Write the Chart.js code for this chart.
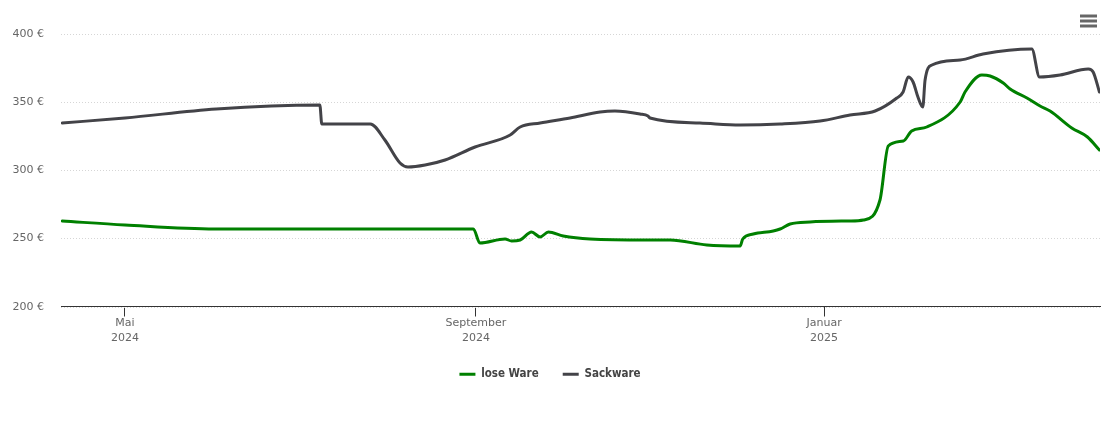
<!DOCTYPE html>
<html>
<head>
<meta charset="utf-8">
<script src="https://cdn.jsdelivr.net/npm/chart.js@4/dist/chart.umd.min.js"></script>
<style>
  html, body { margin: 0; padding: 0; background: #fff; }
  #wrap { width: 1110px; height: 423px; }
</style>
</head>
<body>
<div id="wrap"><canvas id="price-chart"></canvas></div>
<script>
// x values are days since 9 April 2024
const seriesNames = ["lose Ware", "Sackware"];

const loseDays = [0, 22, 53.5, 69.3, 144.1, 146.4, 155.2, 157.5, 160.5, 164.5, 167.5, 170.4, 175.6, 185,
    204.9, 213.1, 225.9, 237.6, 238.5, 242.2, 249.2, 251.6, 255.1, 262.1, 276.1, 280.8, 286.6, 289.5,
    294.8, 297.7, 303, 314.7, 316.4, 322.3, 325.2, 329.8, 332.2, 338.1, 342.7, 346.2, 353.8, 359.3, 363.5];
const losePrices = [262.6, 259.6, 257.0, 256.7, 256.7, 246.6, 249.3, 247.8, 249.1, 254.7, 251.0, 254.7, 251.7, 249.3,
    249.1, 248.6, 245.4, 244.2, 249.8, 253.5, 255.2, 257.2, 260.4, 261.8, 262.6, 263.8, 278.0, 317.8,
    321.7, 328.8, 332.0, 350.4, 357.7, 370.0, 369.3, 363.9, 359.5, 352.9, 347.2, 343.5, 330.8, 324.2, 314.8];

const sackDays = [0, 22, 54, 90.3, 91, 108, 113.1, 118.4, 121.2, 127.2, 134.2, 144.7, 157, 160.5, 167.5,
    178, 188.5, 193.7, 202.5, 205.3, 206, 223.5, 237.6, 251.6, 265.6, 276.1, 284.9, 292.5, 294.7, 296.5,
    298.2, 299.9, 301.6, 302.4, 304.8, 314.7, 322.7, 339.8, 342.5, 349.7, 359.6, 361.3, 363.5];
const sackPrices = [334.7, 338.4, 345.0, 348.0, 334.0, 334.0, 322.2, 305.3, 302.4, 303.8, 307.5, 317.0, 325.9, 331.8, 334.7,
    338.4, 342.8, 343.5, 341.3, 339.9, 338.4, 334.7, 333.2, 333.6, 336.2, 340.6, 343.5, 352.9, 357.5, 368.8,
    364.9, 353.8, 346.3, 366.4, 377.4, 381.1, 385.5, 389.2, 368.3, 369.8, 374.2, 372.2, 357.7];

const monthTicks = [22, 145, 267];
const monthLabels = [["Mai", "2024"], ["September", "2024"], ["Januar", "2025"]];
const yTicks = [200, 250, 300, 350, 400];

function toPoints(xs, ys) {
    return xs.map((x, i) => ({ x: x, y: ys[i] }));
}

// little menu icon in the top right corner
const menuIcon = {
    id: "menuIcon",
    afterDraw(chart) {
        const ctx = chart.ctx;
        ctx.save();
        ctx.strokeStyle = "#666666";
        ctx.lineWidth = 3;
        [16, 21, 26].forEach(function (y) {
            ctx.beginPath();
            ctx.moveTo(1080, y);
            ctx.lineTo(1097, y);
            ctx.stroke();
        });
        ctx.restore();
    },
};

const ctx = document.getElementById("price-chart").getContext("2d");
new Chart(ctx, {
    type: "line",
    data: {
        datasets: [
            {
                label: seriesNames[0],
                data: toPoints(loseDays, losePrices),
                borderColor: "#008000",
                backgroundColor: "#008000",
                borderWidth: 3,
            },
            {
                label: seriesNames[1],
                data: toPoints(sackDays, sackPrices),
                borderColor: "#434348",
                backgroundColor: "#434348",
                borderWidth: 3,
            },
        ],
    },
    options: {
        responsive: true,
        maintainAspectRatio: false,
        animation: false,
        layout: { padding: { left: 0, right: 10, top: 34, bottom: 33 } },
        elements: {
            point: { radius: 0 },
            line: { cubicInterpolationMode: "monotone", borderJoinStyle: "round", borderCapStyle: "round" },
        },
        scales: {
            x: {
                type: "linear",
                min: -0.4,
                max: 363.7,
                afterBuildTicks: function (scale) {
                    scale.ticks = monthTicks.map((v) => ({ value: v }));
                },
                afterFit: function (scale) {
                    scale.height = 38;
                },
                grid: { drawOnChartArea: false, drawTicks: true, tickLength: 10, color: "#333333" },
                border: { display: true, color: "#333333", width: 1 },
                ticks: {
                    autoSkip: false,
                    maxRotation: 0,
                    padding: -1,
                    color: "#666666",
                    font: { family: "DejaVu Sans", size: 11, lineHeight: 1.36 },
                    callback: function (value, index) {
                        return monthLabels[index];
                    },
                },
            },
            y: {
                min: 200,
                max: 400,
                alignToPixels: true,
                afterBuildTicks: function (scale) {
                    scale.ticks = yTicks.map((v) => ({ value: v }));
                },
                afterFit: function (scale) {
                    scale.width = 61;
                },
                grid: { drawTicks: false, color: "#d6d6d6", lineWidth: 1 },
                border: { display: false, dash: [1, 2] },
                ticks: {
                    padding: 17,
                    color: "#666666",
                    font: { family: "DejaVu Sans", size: 11 },
                    callback: function (value) {
                        return value + " €";
                    },
                },
            },
        },
        plugins: {
            tooltip: { enabled: false },
            legend: {
                position: "bottom",
                labels: {
                    usePointStyle: true,
                    pointStyle: "line",
                    pointStyleWidth: 16,
                    padding: 24,
                    color: "#444444",
                    font: { family: "DejaVu Sans Condensed", size: 11.5, weight: "bold" },
                },
            },
        },
    },
    plugins: [menuIcon],
});
</script>
</body>
</html>
